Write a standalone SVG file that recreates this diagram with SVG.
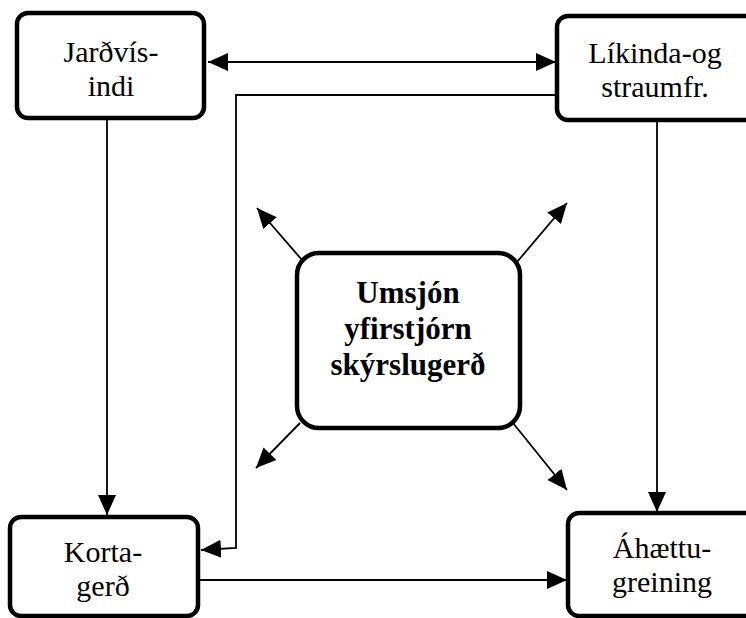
<svg xmlns="http://www.w3.org/2000/svg" width="746" height="618" viewBox="0 0 746 618">
<style>
.box{fill:#fff;stroke:#000;stroke-width:4.5}
.lbl{font-family:'Liberation Serif','Times New Roman','DejaVu Serif',Times,serif;font-size:30px;fill:#000;text-anchor:middle}
.bold{font-weight:bold;font-size:31px}
.con{fill:none;stroke:#000;stroke-width:1.8}
</style>
<defs>
<marker id="ah" markerUnits="userSpaceOnUse" markerWidth="20" markerHeight="20" viewBox="0 0 20 20" refX="20" refY="10" orient="auto-start-reverse">
<path d="M0,1 L20,10 L0,19 Z" fill="#000"/>
</marker>
</defs>
<rect width="746" height="618" fill="#fff"/>
<g id="connectors">
<line class="con" x1="208" y1="62" x2="556" y2="62" marker-start="url(#ah)" marker-end="url(#ah)"/>
<polyline class="con" points="557,95 236,95 236,548 201,550" marker-end="url(#ah)"/>
<line class="con" x1="107" y1="118" x2="107" y2="515" marker-end="url(#ah)"/>
<line class="con" x1="657" y1="120" x2="657" y2="512" marker-end="url(#ah)"/>
<line class="con" x1="198" y1="580" x2="567" y2="580" marker-end="url(#ah)"/>
<line class="con" x1="302" y1="260" x2="257" y2="208" marker-end="url(#ah)"/>
<line class="con" x1="517" y1="262" x2="567" y2="203" marker-end="url(#ah)"/>
<line class="con" x1="300" y1="423" x2="256" y2="468" marker-end="url(#ah)"/>
<line class="con" x1="513" y1="423" x2="567" y2="490" marker-end="url(#ah)"/>
</g>
<g id="jardvisindi">
<rect class="box" x="17" y="13" width="187" height="105" rx="11"/>
<text class="lbl" x="111" y="62" font-family="Liberation Serif, serif">Jarðvís-</text>
<text class="lbl" x="111" y="96" font-family="Liberation Serif, serif">indi</text>
</g>
<g id="likinda">
<rect class="box" x="557" y="16" width="200" height="104" rx="11"/>
<text class="lbl" x="655" y="63" font-family="Liberation Serif, serif">Líkinda-og</text>
<text class="lbl" x="655" y="97" font-family="Liberation Serif, serif">straumfr.</text>
</g>
<g id="kortagerd">
<rect class="box" x="10" y="517" width="188" height="99" rx="11"/>
<text class="lbl" x="103" y="562" font-family="Liberation Serif, serif">Korta-</text>
<text class="lbl" x="103" y="596" font-family="Liberation Serif, serif">gerð</text>
</g>
<g id="ahaettugreining">
<rect class="box" x="568" y="513" width="200" height="103" rx="11"/>
<text class="lbl" x="662" y="558" font-family="Liberation Serif, serif">Áhættu-</text>
<text class="lbl" x="662" y="592" font-family="Liberation Serif, serif">greining</text>
</g>
<g id="umsjon">
<rect class="box" x="297" y="253" width="223" height="175" rx="22"/>
<text class="lbl bold" x="408" y="303" font-family="Liberation Serif, serif">Umsjón</text>
<text class="lbl bold" x="408" y="339" font-family="Liberation Serif, serif">yfirstjórn</text>
<text class="lbl bold" x="408" y="375" font-family="Liberation Serif, serif">skýrslugerð</text>
</g>
</svg>
